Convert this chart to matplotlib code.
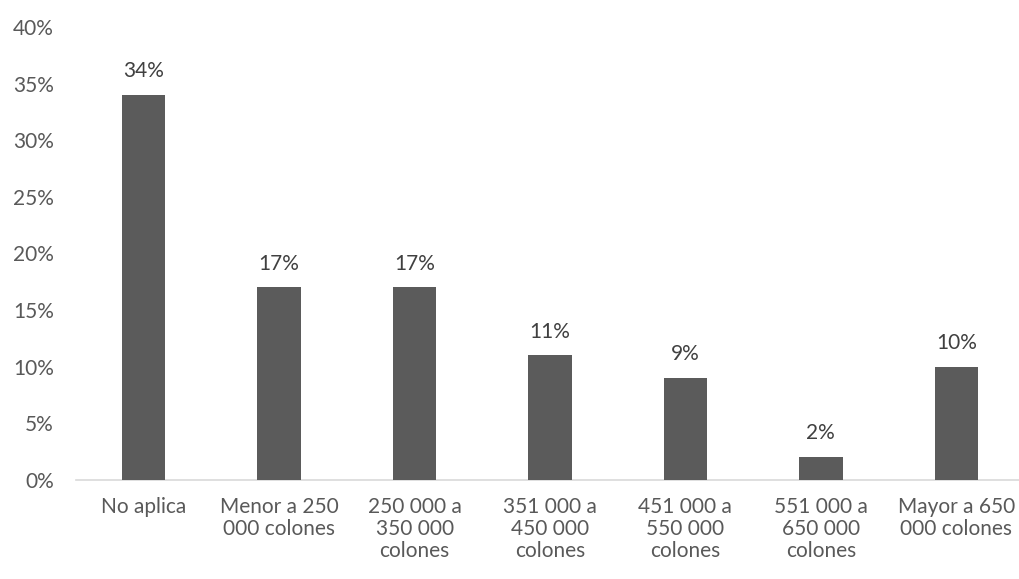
import matplotlib
matplotlib.use("Agg")
import matplotlib.pyplot as plt
from matplotlib.ticker import MultipleLocator, PercentFormatter

categories = [
    "No aplica",
    "Menor a 250\n000 colones",
    "250 000 a\n350 000\ncolones",
    "351 000 a\n450 000\ncolones",
    "451 000 a\n550 000\ncolones",
    "551 000 a\n650 000\ncolones",
    "Mayor a 650\n000 colones",
]
values = [34, 17, 17, 11, 9, 2, 10]

BAR = "#5b5b5b"
TEXT = "#595959"
plt.rcParams["font.family"] = ["Lato", "DejaVu Sans"]

W, H = 1019, 579
fig = plt.figure(figsize=(W / 100, H / 100), dpi=100)
left, right = 76, 1024
top, bottom = 27, 480
ax = fig.add_axes([left / W, 1 - bottom / H, (right - left) / W, (bottom - top) / H])

x = range(len(categories))
ax.bar(x, values, width=0.32, color=BAR, zorder=3)
for xi, v in zip(x, values):
    ax.annotate(f"{v}%", (xi, v), xytext=(0, 10), textcoords="offset points",
                ha="center", va="bottom", fontsize=15, color="#404040")

ax.set_xlim(-0.5, len(categories) - 0.5)
ax.set_ylim(0, 40)
ax.yaxis.set_major_locator(MultipleLocator(5))
ax.yaxis.set_major_formatter(PercentFormatter(decimals=0))
ax.set_xticks(list(x))
ax.set_xticklabels(categories, fontsize=15, color=TEXT, linespacing=1.12)
ax.tick_params(axis="y", labelsize=15, labelcolor=TEXT, length=0, pad=16)
ax.tick_params(axis="x", length=0, pad=12)

for s in ["top", "right", "left"]:
    ax.spines[s].set_visible(False)
ax.spines["bottom"].set_color("#d9d9d9")
ax.spines["bottom"].set_linewidth(1.2)

fig.savefig("out.png", dpi=100)
